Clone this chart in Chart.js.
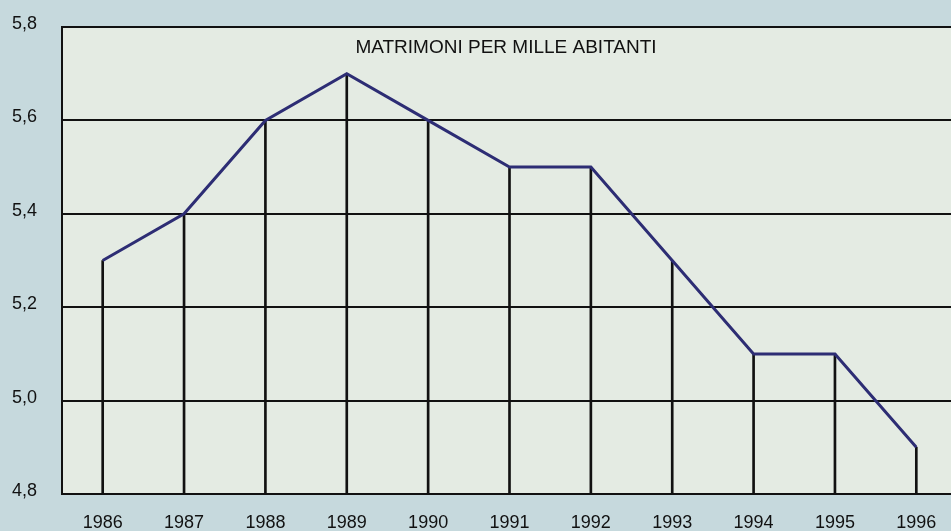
<!DOCTYPE html>
<html>
<head>
<meta charset="utf-8">
<script src="https://cdn.jsdelivr.net/npm/chart.js@4"></script>
<style>
  html, body { margin: 0; padding: 0; overflow: hidden; background: #c6d9dd; }
  #wrap { width: 960px; height: 531px; }
</style>
</head>
<body>
<div id="wrap"><canvas id="chart" width="960" height="531"></canvas></div>
<script>
const years = ['1986', '1987', '1988', '1989', '1990', '1991', '1992', '1993', '1994', '1995', '1996'];
const marriages = [5.3, 5.4, 5.6, 5.7, 5.6, 5.5, 5.5, 5.3, 5.1, 5.1, 4.9];
const chartTitle = 'MATRIMONI PER MILLE ABITANTI';

const font = '"Liberation Sans", Arial, sans-serif';

// sfondo esterno + area del grafico, poi titolo dentro l'area
const backdrop = {
  id: 'backdrop',
  beforeDraw(chart) {
    const { ctx, chartArea: a } = chart;
    ctx.save();
    ctx.fillStyle = '#c6d9dd';
    ctx.fillRect(0, 0, chart.width, chart.height);
    ctx.fillStyle = '#e4ebe3';
    ctx.fillRect(a.left, a.top, a.right - a.left, a.bottom - a.top);
    ctx.restore();
  },
  afterDraw(chart) {
    const { ctx, chartArea: a } = chart;
    ctx.save();
    ctx.font = '19px ' + font;
    ctx.fillStyle = '#111';
    ctx.textAlign = 'center';
    ctx.textBaseline = 'middle';
    ctx.fillText(chartTitle, 506, a.top + 21);
    ctx.restore();
  }
};

new Chart(document.getElementById('chart'), {
  data: {
    labels: years,
    datasets: [
      {
        type: 'line',
        data: marriages,
        borderColor: '#2d2d74',
        borderWidth: 3,
        pointRadius: 0,
        tension: 0,
        order: 0
      },
      {
        // linee verticali fino alla base
        type: 'bar',
        data: marriages,
        backgroundColor: '#111',
        barThickness: 2,
        order: 1
      }
    ]
  },
  options: {
    responsive: false,
    animation: false,
    layout: { padding: { top: 27, right: 3, left: 0, bottom: 0 } },
    plugins: { legend: { display: false }, tooltip: { enabled: false } },
    scales: {
      x: {
        offset: true,
        grid: { display: false, drawTicks: false },
        border: { display: true, color: '#111', width: 2 },
        ticks: {
          color: '#111',
          padding: 18,
          maxRotation: 0,
          font: { size: 18, family: font }
        },
        afterFit: s => { s.height = 37; s.paddingLeft = 0; s.paddingRight = 0; }
      },
      y: {
        min: 4.8,
        max: 5.8,
        grid: { color: '#111', lineWidth: 2, drawTicks: false },
        border: { display: true, color: '#111', width: 2 },
        ticks: {
          stepSize: 0.2,
          color: '#111',
          padding: 25,
          labelOffset: -3,
          font: { size: 18, family: font },
          callback: v => v.toFixed(1).replace('.', ',')
        },
        afterFit: s => { s.width = 62; s.paddingTop = 0; s.paddingBottom = 0; }
      }
    }
  },
  plugins: [backdrop]
});
</script>
</body>
</html>
